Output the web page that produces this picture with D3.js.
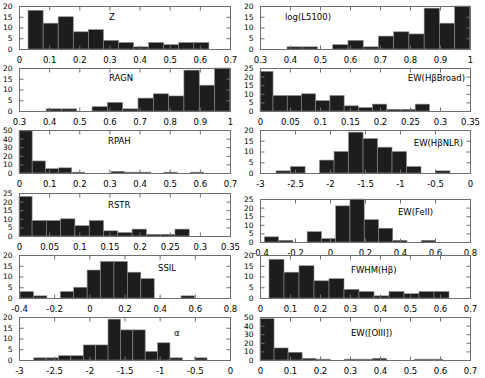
<!DOCTYPE html>
<html>
<head>
<meta charset="utf-8">
<script src="https://cdn.jsdelivr.net/npm/d3@7"></script>
<style>
  body { margin: 0; background: #fff; }
  text { font-family: "DejaVu Sans", sans-serif; fill: #000; }
</style>
</head>
<body>
<script>
// histogram counts
var countsZ      = [18, 12, 15, 8, 9, 4, 3, 1, 3, 2, 3, 3];
var countsL5100  = [1, 1, 0, 2, 4, 1, 6, 8, 7, 19, 12, 20];
var countsRAGN   = [1, 1, 0, 2, 4, 1, 6, 8, 7, 19, 12, 20];
var countsHbBr   = [23, 9, 9, 10, 6, 9, 3, 2, 4, 1, 1, 4];
var countsRPAH   = [49, 14, 5, 6, 1, 0, 0, 2, 1, 1, 0, 1, 0, 1];
var countsHbNLR  = [1, 3, 0, 6, 10, 19, 16, 12, 10, 3, 0, 1];
var countsRSTR   = [23, 9, 9, 10, 6, 9, 3, 2, 4, 1, 1, 4];
var countsFeII   = [3, 1, 0, 6, 2, 21, 25, 13, 8, 1, 0, 1];
var countsSSIL   = [3, 1, 0, 3, 5, 13, 17, 17, 12, 9, 0, 0, 1];
var countsFWHM   = [18, 12, 15, 8, 9, 4, 3, 1, 3, 2, 3, 3];
var countsAlpha  = [1, 1, 2, 2, 7, 7, 19, 14, 14, 4, 8, 1, 0, 1];
var countsOIII   = [48, 14, 9, 2, 1, 0, 1, 1, 2, 0, 0, 1, 1];

var labels   = ["Z", "log(L5100)", "RAGN", "EW(H\u03b2Broad)", "RPAH", "EW(H\u03b2NLR)",
                "RSTR", "EW(FeII)", "SSIL", "FWHM(H\u03b2)", "\u03b1", "EW([OIII])"];
var binStart = [0.03, 0.39, 0.39, -0.002, 0, -2.77, -0.002, -0.375, -0.394, 0.03, -2.79, 0];
var binWidth = [0.05, 0.0508, 0.0508, 0.0237, 0.0437, 0.207, 0.0237, 0.0815, 0.0763, 0.05, 0.176, 0.0468];
var xDomains = [[0, 0.7], [0.3, 1], [0.3, 1], [0, 0.35], [0, 0.7], [-3, 0],
                [0, 0.35], [-0.4, 0.8], [-0.4, 0.8], [0, 0.7], [-3, 0], [0, 0.7]];
var xSteps   = [0.1, 0.1, 0.1, 0.05, 0.1, 0.5, 0.05, 0.2, 0.2, 0.1, 0.5, 0.1];
var yMax     = [20, 20, 20, 25, 50, 20, 25, 25, 20, 20, 20, 50];
var ySteps   = [5, 5, 5, 5, 10, 5, 5, 5, 5, 5, 5, 10];

var allCounts = [countsZ, countsL5100, countsRAGN, countsHbBr, countsRPAH, countsHbNLR,
                 countsRSTR, countsFeII, countsSSIL, countsFWHM, countsAlpha, countsOIII];

// layout
var W = 485, H = 378;
var colX = [[19, 230], [260, 470]];
var rowY = [[6, 49], [68, 111], [130, 173], [193, 236], [255, 298], [317, 360]];
var rowYRight4 = [199, 242];
// label anchor inside each panel (x, y, anchor)
var labelPos = [[109, 20, "start"], [285, 20, "start"], [109, 81, "start"], [465, 81, "end"],
                [108, 144, "start"], [463, 146, "end"], [108, 208, "start"], [398, 215, "start"],
                [158, 271, "start"], [351, 273, "start"], [174, 336, "start"], [351, 336, "start"]];

var svg = d3.select("body").append("svg")
    .attr("width", W)
    .attr("height", H);

var fmt = function(d) { return String(+d.toFixed(3)); };

labels.forEach(function(lab, i) {
    var col = i % 2, row = Math.floor(i / 2);
    var xr = colX[col];
    var yr = (col == 1 && row == 3) ? rowYRight4 : rowY[row];

    var x = d3.scaleLinear().domain(xDomains[i]).range(xr);
    var y = d3.scaleLinear().domain([0, yMax[i]]).range([yr[1], yr[0]]);

    var bins = allCounts[i].map(function(c, k) {
        var lo = binStart[i] + k * binWidth[i];
        return { x0: Math.max(lo, xDomains[i][0]), x1: Math.min(lo + binWidth[i], xDomains[i][1]), n: c };
    });

    var g = svg.append("g");

    g.selectAll("rect.bar")
        .data(bins.filter(function(b) { return b.n > 0; }))
        .enter()
        .append("rect")
        .attr("class", "bar")
        .attr("x", function(d) { return x(d.x0); })
        .attr("y", function(d) { return y(d.n); })
        .attr("width", function(d) { return x(d.x1) - x(d.x0); })
        .attr("height", function(d) { return y(0) - y(d.n); })
        .attr("fill", "#1f1c1c")
        .attr("stroke", "#8a8a8a")
        .attr("stroke-width", 0.6);

    // frame
    g.append("rect")
        .attr("x", xr[0] + 0.5).attr("y", yr[0] + 0.5)
        .attr("width", xr[1] - xr[0]).attr("height", yr[1] - yr[0])
        .attr("fill", "none")
        .attr("stroke", "#6e6e6e")
        .attr("stroke-width", 1);

    var xt = d3.range(xDomains[i][0], xDomains[i][1] + xSteps[i] / 2, xSteps[i]);
    var yt = d3.range(0, yMax[i] + ySteps[i] / 2, ySteps[i]);

    var axB = d3.axisBottom(x).tickValues(xt).tickFormat(fmt).tickSize(-4).tickPadding(7);
    var axT = d3.axisTop(x).tickValues(xt).tickFormat("").tickSize(-4);
    var axL = d3.axisLeft(y).tickValues(yt).tickFormat(fmt).tickSize(-4).tickPadding(7);
    var axR = d3.axisRight(y).tickValues(yt).tickFormat("").tickSize(-4);

    [[axB, "translate(0," + (yr[1] + 0.5) + ")", 8.5],
     [axT, "translate(0," + (yr[0] + 0.5) + ")", 8.5],
     [axL, "translate(" + (xr[0] + 0.5) + ",0)", 7.5],
     [axR, "translate(" + (xr[1] + 0.5) + ",0)", 7.5]].forEach(function(a) {
        var ag = g.append("g").attr("transform", a[1]).call(a[0]);
        ag.select(".domain").remove();
        ag.selectAll("line").attr("stroke", "#6e6e6e");
        ag.selectAll("text").attr("font-size", a[2]).attr("font-family", "DejaVu Sans");
    });

    g.append("text")
        .attr("x", labelPos[i][0])
        .attr("y", labelPos[i][1])
        .attr("text-anchor", labelPos[i][2])
        .attr("font-size", 8.5)
        .text(lab);
});
</script>
</body>
</html>
